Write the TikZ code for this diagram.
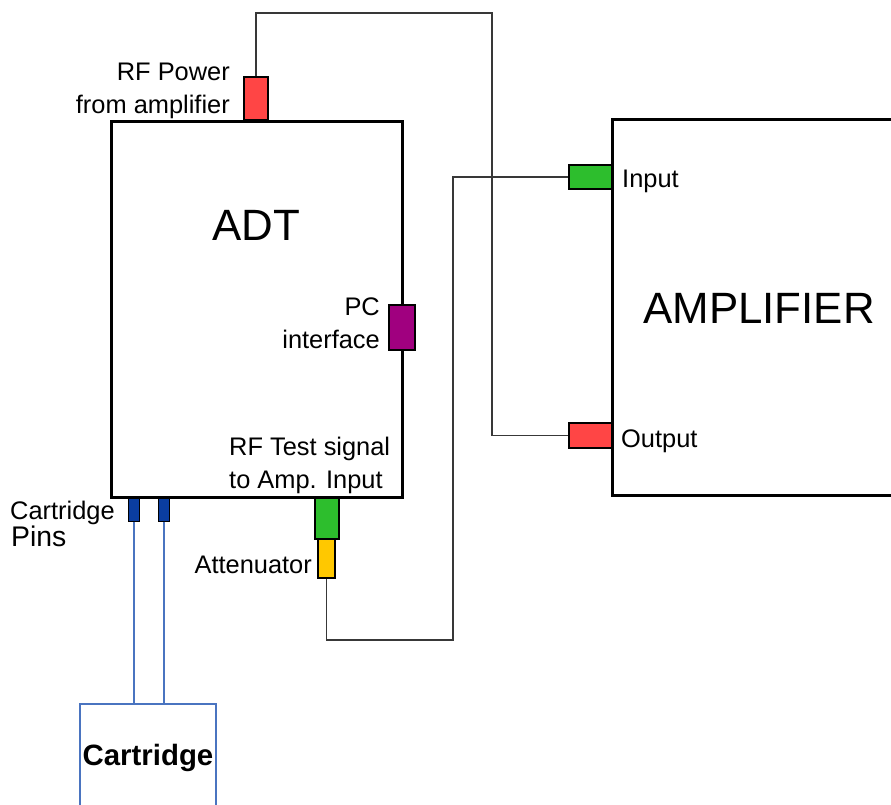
\documentclass[tikz,border=0pt]{standalone}
\usepackage{fontspec}
\setmainfont{Liberation Sans}
\definecolor{cred}{HTML}{FF4545}
\definecolor{cgreen}{HTML}{2DBE2D}
\definecolor{cpurple}{HTML}{A0007F}
\definecolor{cyellow}{HTML}{FFC800}
\definecolor{cpin}{HTML}{0A3DA0}
\definecolor{cblue}{HTML}{4A74C0}
\definecolor{cwire}{HTML}{383838}
\tikzset{
  box/.style={draw=black, line width=3bp, inner sep=0pt, fill=white},
  conn/.style={draw=black, line width=2.5bp, inner sep=0pt},
  pinbox/.style={draw=black, line width=1bp, fill=cpin, inner sep=0pt, minimum width=11bp, minimum height=23bp},
  wire/.style={draw=cwire, line width=1.7bp},
  bwire/.style={draw=cblue, line width=2bp},
  lbl/.style={inner sep=0pt, font=\fontsize{25.5}{31}\selectfont},
  big/.style={inner sep=0pt, font=\fontsize{44}{50}\selectfont},
}
\begin{document}
\begin{tikzpicture}[x=1bp,y=-1bp]
\useasboundingbox (0,0) rectangle (891,805);
\clip (0,0) rectangle (891,805);
% amplifier box (open on the right)
\draw[line width=3bp] (895,119) -- (612,119) -- (612,495) -- (895,495);
\node[big, anchor=base] (amp) at (759,323) {AMPLIFIER};
% ADT box
\node[box, minimum width=290bp, minimum height=375bp] (adt) at (257,309.5) {};
\node[big, anchor=base] (adtl) at (256,240) {ADT};
% cartridge box (open at the bottom)
\coordinate (cl) at (80,704);
\coordinate (cr) at (216,704);
\draw[bwire] (80,808) -- (cl) -- (cr) -- (216,808);
\node[inner sep=0pt, anchor=base, font=\fontsize{29.5}{33}\selectfont\bfseries] (cart) at (148,765) {Cartridge};
% connectors
\node[conn, fill=cred, minimum width=24bp, minimum height=43bp] (rfp) at (256,98.5) {};
\node[conn, fill=cpurple, minimum width=26bp, minimum height=45bp] (pc) at (402,327.5) {};
\node[conn, fill=cgreen, minimum width=24bp, minimum height=41bp] (tst) at (327,518.5) {};
\node[conn, fill=cyellow, minimum width=17bp, minimum height=39bp] (att) at (326.5,558.5) {};
\node[pinbox] (pin1) at (134,509.5) {};
\node[pinbox] (pin2) at (164,509.5) {};
\node[conn, fill=cgreen, minimum width=43bp, minimum height=24bp] (inp) at (590.5,177) {};
\node[conn, fill=cred, minimum width=43bp, minimum height=25bp] (outp) at (590.5,435.5) {};
% wires
\coordinate (w1) at (492,13);
\coordinate (w2) at (453,640);
\draw[wire] (rfp.north) |- (w1) |- (outp.west);
\draw[wire] (inp.west) -| (w2) -| (att.south);
\draw[bwire] (pin1.south) -- (pin1.south |- cl);
\draw[bwire] (pin2.south) -- (pin2.south |- cl);
% labels
\node[lbl, anchor=base east] (l1) at (230,81) {RF Power};
\node[lbl, anchor=base east] (l2) at (230,113) {from amplifier};
\node[lbl, anchor=base east] (l3) at (380,315) {PC};
\node[lbl, anchor=base east] (l4) at (380,348) {interface};
\node[lbl, anchor=base west] (l5) at (229,455) {RF Test signal};
\node[lbl, anchor=base west] (l6) at (229,488) {to Amp. Input};
\node[lbl, anchor=base west] (l7) at (10,519) {Cartridge};
\node[inner sep=0pt, anchor=base west, font=\fontsize{28.5}{32}\selectfont] (l8) at (11,546) {Pins};
\node[lbl, anchor=base east] (l9) at (312,573) {Attenuator};
\node[lbl, anchor=base west] (l10) at (622,187) {Input};
\node[lbl, anchor=base west] (l11) at (621,447) {Output};
\end{tikzpicture}
\end{document}
